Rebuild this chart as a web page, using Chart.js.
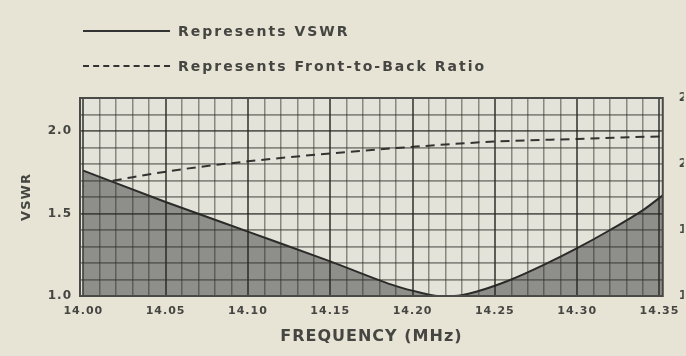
<!DOCTYPE html>
<html>
<head>
<meta charset="utf-8">
<script src="https://cdn.jsdelivr.net/npm/chart.js@4"></script>
<style>
  html, body { margin: 0; padding: 0; background: #e7e4d5; overflow: hidden; }
  #wrap { position: relative; width: 686px; height: 356px; }
  .key { position: absolute; left: 83px; font: bold 14px "DejaVu Sans", sans-serif; color: #454542; white-space: nowrap; }
  .key span.ln { display: inline-block; width: 87px; vertical-align: middle; margin-right: 8px; }
  .key span.txt { vertical-align: middle; letter-spacing: 2px; }
</style>
</head>
<body>
<div id="wrap">
  <div class="key" style="top:22px"><span class="ln" style="border-top:2px solid #333"></span><span class="txt">Represents VSWR</span></div>
  <div class="key" style="top:57px"><span class="ln" style="border-top:2px dashed #333"></span><span class="txt">Represents Front-to-Back Ratio</span></div>
  <canvas id="chart"></canvas>
</div>
<script>
// frequency (MHz) vs VSWR
const vswrFreq = [14.00, 14.05, 14.10, 14.15, 14.19, 14.205, 14.215, 14.225, 14.24, 14.26, 14.28, 14.30, 14.32, 14.34, 14.352];
const vswrValues = [1.76, 1.57, 1.39, 1.21, 1.06, 1.02, 1.00, 1.00, 1.03, 1.10, 1.19, 1.29, 1.40, 1.52, 1.61];

// front-to-back ratio (dB), right axis
const fbFreq = [14.00, 14.03, 14.06, 14.10, 14.15, 14.20, 14.25, 14.30, 14.352];
const fbValues = [18.3, 19.0, 19.6, 20.2, 20.8, 21.3, 21.7, 21.9, 22.1];

const freqTicks = ["14.00", "14.05", "14.10", "14.15", "14.20", "14.25", "14.30", "14.35"];
const vswrTicks = ["1.0", "1.5", "2.0"];

const FONT = "'DejaVu Sans', sans-serif";
const INK = "#454542";

const plotBg = {
  id: "plotBg",
  beforeDraw(chart) {
    const a = chart.chartArea, c = chart.ctx;
    c.letterSpacing = "1px";
    c.save();
    c.fillStyle = "#e3e3d9";
    c.fillRect(a.left, a.top, a.right - a.left, a.bottom - a.top);
    c.restore();
  },
  afterDraw(chart) {
    const a = chart.chartArea, c = chart.ctx;
    c.save();
    c.strokeStyle = "#4a4a46";
    c.lineWidth = 2;
    c.strokeRect(a.left, a.top, a.right - a.left, a.bottom - a.top);
    c.restore();
  }
};

const ctx = document.getElementById("chart").getContext("2d");
new Chart(ctx, {
  type: "line",
  data: {
    datasets: [{
      label: "Represents VSWR",
      data: vswrFreq.map((f, i) => ({ x: f, y: vswrValues[i] })),
      yAxisID: "y",
      borderColor: "#2b2b29",
      borderWidth: 2,
      backgroundColor: "#8e8e8b",
      fill: "start",
      pointRadius: 0,
      cubicInterpolationMode: "monotone"
    }, {
      label: "Represents Front-to-Back Ratio",
      data: fbFreq.map((f, i) => ({ x: f, y: fbValues[i] })),
      yAxisID: "y2",
      borderColor: "#333331",
      borderWidth: 2,
      borderDash: [9, 6],
      fill: false,
      pointRadius: 0,
      cubicInterpolationMode: "monotone"
    }]
  },
  options: {
    responsive: true,
    maintainAspectRatio: false,
    animation: false,
    layout: { padding: { top: 98, left: 0, right: 0, bottom: 0 } },
    plugins: { legend: { display: false }, tooltip: { enabled: false } },
    scales: {
      x: {
        type: "linear",
        min: 13.998,
        max: 14.352,
        afterBuildTicks(scale) {
          const t = [];
          for (let k = 1400; k <= 1435; k++) t.push({ value: k / 100 });
          scale.ticks = t;
        },
        afterFit(scale) { scale.height = 60; },
        grid: {
          z: 1,
          drawTicks: false,
          color: (c) => Math.round(c.tick.value * 100) % 5 === 0 ? "rgba(35,35,32,0.7)" : "rgba(45,45,40,0.5)",
          lineWidth: (c) => Math.round(c.tick.value * 100) % 5 === 0 ? 2 : 1.5
        },
        border: { display: false },
        ticks: {
          autoSkip: false,
          maxRotation: 0,
          padding: 9,
          color: INK,
          font: { family: FONT, size: 11, weight: "bold" },
          callback(v) {
            const k = Math.round(v * 100);
            return k % 5 === 0 ? freqTicks[(k - 1400) / 5] : "";
          }
        },
        title: {
          display: true,
          text: "FREQUENCY (MHz)",
          color: INK,
          font: { family: FONT, size: 16, weight: "bold" },
          padding: { top: 0, bottom: 10 }
        }
      },
      y: {
        position: "left",
        min: 1.0,
        max: 2.2,
        afterBuildTicks(scale) {
          const t = [];
          for (let k = 10; k <= 22; k++) t.push({ value: k / 10 });
          scale.ticks = t;
        },
        afterFit(scale) { scale.width = 80; },
        grid: {
          z: 1,
          drawTicks: false,
          color: (c) => Math.round(c.tick.value * 10) % 5 === 0 ? "rgba(35,35,32,0.7)" : "rgba(45,45,40,0.5)",
          lineWidth: 1.8
        },
        border: { display: false },
        ticks: {
          autoSkip: false,
          padding: 8,
          color: INK,
          font: { family: FONT, size: 12, weight: "bold" },
          callback(v) {
            const k = Math.round(v * 10);
            return k % 5 === 0 ? vswrTicks[(k - 10) / 5] : "";
          }
        },
        title: {
          display: true,
          text: "VSWR",
          color: INK,
          font: { family: FONT, size: 13, weight: "bold" },
          padding: { top: 19, bottom: 0 }
        }
      },
      y2: {
        position: "right",
        min: 10,
        max: 25,
        afterFit(scale) { scale.width = 21; },
        grid: { display: false, drawTicks: false },
        border: { display: false },
        ticks: {
          stepSize: 5,
          padding: 16,
          color: INK,
          font: { family: FONT, size: 12, weight: "bold" }
        }
      }
    }
  },
  plugins: [plotBg]
});
</script>
</body>
</html>
